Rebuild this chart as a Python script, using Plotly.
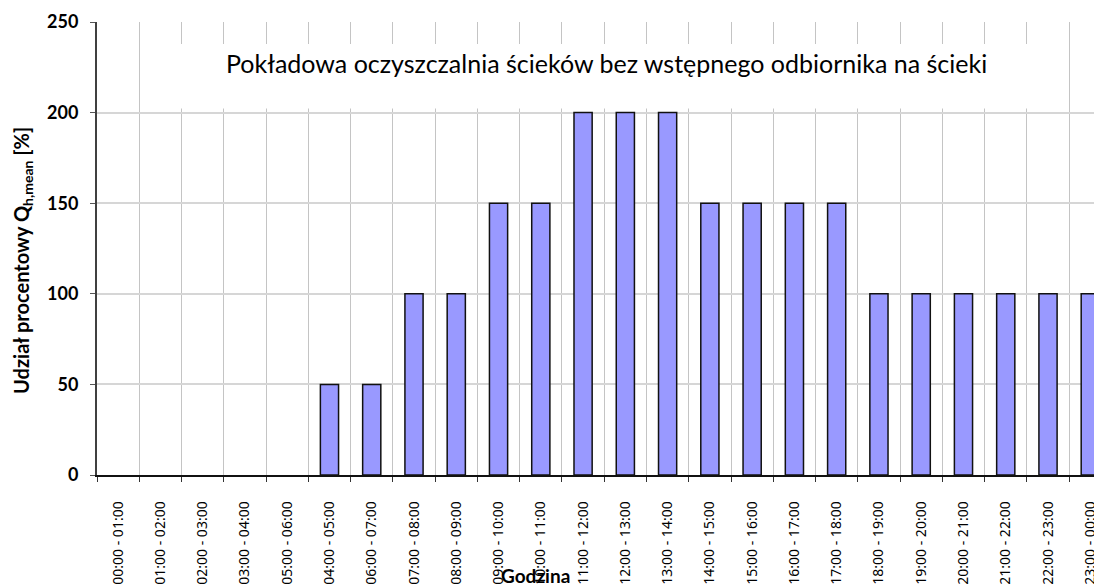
import plotly.graph_objects as go

categories = ["00:00 - 01:00", "01:00 - 02:00", "02:00 - 03:00", "03:00 - 04:00",
              "05:00 - 06:00", "04:00 - 05:00", "06:00 - 07:00", "07:00 - 08:00",
              "08:00 - 09:00", "09:00 - 10:00", "10:00 - 11:00", "11:00 - 12:00",
              "12:00 - 13:00", "13:00 - 14:00", "14:00 - 15:00", "15:00 - 16:00",
              "16:00 - 17:00", "17:00 - 18:00", "18:00 - 19:00", "19:00 - 20:00",
              "20:00 - 21:00", "21:00 - 22:00", "22:00 - 23:00", "23:00 - 00:00"]
values = [0, 0, 0, 0, 0, 50, 50, 100, 100, 150, 150, 200,
          200, 200, 150, 150, 150, 150, 100, 100, 100, 100, 100, 100]
y_ticks = [0, 50, 100, 150, 200, 250]

title_text = "Pokładowa oczyszczalnia ścieków bez wstępnego odbiornika na ścieki"
y_title = "Udział procentowy Q<sub>h,mean</sub> [%]"
x_title = "Godzina"

# page has an 8px body margin, so the figure is sized to fit inside it
OFF = 8
W, H = 1102 - OFF, 587 - OFF
ml, mr, mt, mb = 97 - OFF, 2, 20 - OFF, 112
PW, PH = W - ml - mr, H - mt - mb


def px(xp):
    return (xp - OFF - ml) / PW


def py(yp):
    return 1 - (yp - OFF - mt) / PH


fig = go.Figure()
fig.add_trace(go.Bar(
    x=categories, y=values, width=0.43,
    marker=dict(color="#9999FF",
                line=dict(color="#111111", width=[1.5 if v else 0 for v in values])),
    showlegend=False,
))

fig.update_layout(
    width=W, height=H,
    margin=dict(l=ml, r=mr, t=mt, b=mb, pad=0),
    paper_bgcolor="white", plot_bgcolor="white",
    xaxis=dict(
        type="category", range=[-0.5, 23.23],
        tickson="boundaries", ticks="outside", ticklen=5, tickcolor="#333333",
        showgrid=True, gridcolor="#c4c4c4", gridwidth=1,
        showline=True, linecolor="#111111", linewidth=1.5,
        tickangle=-90, ticklabelstandoff=19,
        tickfont=dict(family="Noto Sans", size=14, color="black"),
    ),
    yaxis=dict(
        range=[0, 250], tickvals=y_ticks, ticks="outside", ticklen=5,
        tickcolor="#555555",
        showgrid=True, gridcolor="#d6d6d6", gridwidth=1.5,
        showline=True, linecolor="#404040", linewidth=2,
        tickfont=dict(family="Lato", size=18, color="black", weight="bold"),
        ticklabelstandoff=8, zeroline=False,
    ),
    shapes=[dict(type="rect", xref="paper", yref="paper",
                 x0=px(150), x1=px(1050), y0=py(107), y1=py(42),
                 fillcolor="white", line=dict(width=0), layer="above")],
    annotations=[
        dict(text=title_text, xref="paper", yref="paper", x=px(606), y=py(61),
             showarrow=False, xanchor="center", yanchor="middle",
             font=dict(family="Lato", size=25, color="black")),
        dict(text=y_title, xref="paper", yref="paper", x=px(23),
             y=py(260), showarrow=False, textangle=-90, xanchor="center", yanchor="middle",
             font=dict(family="Lato", size=20, color="black", weight="bold")),
        dict(text="<b>" + x_title + "</b>", xref="paper", yref="paper",
             x=px(535), y=py(576),
             showarrow=False, xanchor="center", yanchor="middle",
             font=dict(family="Lato", size=19, color="black")),
    ],
)

fig.write_html("out.html")
